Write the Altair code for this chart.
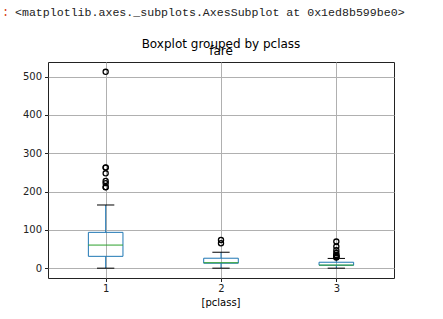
import altair as alt
import pandas as pd

# ---- data ----
classes = [1, 2, 3]
mins = [0.0, 0.0, 0.0]
q1s = [30.92, 13.0, 7.75]
medians = [60.29, 14.25, 8.05]
q3s = [93.5, 26.0, 15.5]
maxs = [164.87, 41.58, 25.47]
outliers_1 = [211.34, 211.5, 221.78, 227.53, 247.52, 262.38, 263.0, 512.33]
outliers_2 = [65.0, 73.5]
outliers_3 = [27.9, 29.13, 31.28, 31.39, 34.38, 39.69, 46.9, 56.5, 69.55]
y_ticks = [0, 100, 200, 300, 400, 500]

BOX_HALF = 0.15
CAP_HALF = 0.075

stats = pd.DataFrame({
    "pclass": classes, "lo": mins, "q1": q1s, "med": medians, "q3": q3s, "hi": maxs,
})
flier_rows = []
for c, vals in zip(classes, [outliers_1, outliers_2, outliers_3]):
    for v in vals:
        flier_rows.append({"pclass": c, "fare": v})
fliers = pd.DataFrame(flier_rows)

FONT = "DejaVu Sans"
xscale = alt.Scale(domain=[0.5, 3.5], nice=False, zero=False)
yscale = alt.Scale(domain=[-25.6, 537.9], nice=False, zero=False)

xaxis = alt.Axis(values=classes, format="d", title=None, grid=True, domain=False,
                 tickSize=3.5, tickColor="#222", labelPadding=2,
                 labelFontSize=10, labelFont=FONT, labelColor="#222",
                 gridColor="#b0b0b0", gridWidth=1)
yaxis = alt.Axis(values=y_ticks, format="d", title=None, grid=True, domain=False,
                 tickSize=3.5, tickColor="#222", labelPadding=3,
                 labelFontSize=10, labelFont=FONT, labelColor="#222",
                 gridColor="#b0b0b0", gridWidth=1)

base = alt.Chart(stats).transform_calculate(
    bl="datum.pclass - %f" % BOX_HALF,
    br="datum.pclass + %f" % BOX_HALF,
    cl="datum.pclass - %f" % CAP_HALF,
    cr="datum.pclass + %f" % CAP_HALF,
)

# axes carrier (invisible points so that grid + axes exist)
axes_layer = base.mark_point(opacity=0).encode(
    x=alt.X("pclass:Q", scale=xscale, axis=xaxis),
    y=alt.Y("med:Q", scale=yscale, axis=yaxis),
)

whisk_lo = base.mark_rule(color="#1f77b4", strokeWidth=1).encode(
    x=alt.X("pclass:Q", scale=xscale), y=alt.Y("lo:Q", scale=yscale), y2="q1:Q")
whisk_hi = base.mark_rule(color="#1f77b4", strokeWidth=1).encode(
    x=alt.X("pclass:Q", scale=xscale), y=alt.Y("q3:Q", scale=yscale), y2="hi:Q")
box = base.mark_rect(fill=None, fillOpacity=0, stroke="#1f77b4", strokeWidth=1).encode(
    x=alt.X("bl:Q", scale=xscale), x2="br:Q",
    y=alt.Y("q1:Q", scale=yscale), y2="q3:Q")
median = base.mark_rule(color="#2ca02c", strokeWidth=1).encode(
    x=alt.X("bl:Q", scale=xscale), x2="br:Q", y=alt.Y("med:Q", scale=yscale))
cap_lo = base.mark_rule(color="black", strokeWidth=1).encode(
    x=alt.X("cl:Q", scale=xscale), x2="cr:Q", y=alt.Y("lo:Q", scale=yscale))
cap_hi = base.mark_rule(color="black", strokeWidth=1).encode(
    x=alt.X("cl:Q", scale=xscale), x2="cr:Q", y=alt.Y("hi:Q", scale=yscale))

flier_layer = alt.Chart(fliers).mark_point(
    shape="circle", filled=False, color="black", strokeWidth=1.3, size=26, opacity=1
).encode(
    x=alt.X("pclass:Q", scale=xscale), y=alt.Y("fare:Q", scale=yscale))

def label(txt, x, y, size, align="center", color="#000", font=FONT):
    return alt.Chart(pd.DataFrame({"t": [txt]})).mark_text(
        align=align, baseline="alphabetic", fontSize=size, font=font, color=color
    ).encode(text="t:N", x=alt.value(x), y=alt.value(y))

out_prompt = label(":", -46, -46, 12, align="left", color="#D84315", font="Liberation Mono")
repr_text = label("<matplotlib.axes._subplots.AxesSubplot at 0x1ed8b599be0>",
                  -33, -46, 11.6, align="left", color="#222", font="Liberation Mono")
title1 = label("Boxplot grouped by pclass", 173, -14, 12)
title2 = label("fare", 173, -7, 12)
xtitle = label("[pclass]", 173, 244, 10)

chart = alt.layer(
    axes_layer, whisk_lo, whisk_hi, box, median, cap_lo, cap_hi, flier_layer,
    out_prompt, repr_text, title1, title2, xtitle,
).properties(
    width=346, height=216,
    autosize=alt.AutoSizeParams(type="none"),
    padding={"left": 48, "top": 62, "right": 49, "bottom": 41},
    background="white",
).configure_view(stroke="#222", strokeWidth=1)

chart.save("out.html", embed_options={"renderer": "svg", "actions": False})
